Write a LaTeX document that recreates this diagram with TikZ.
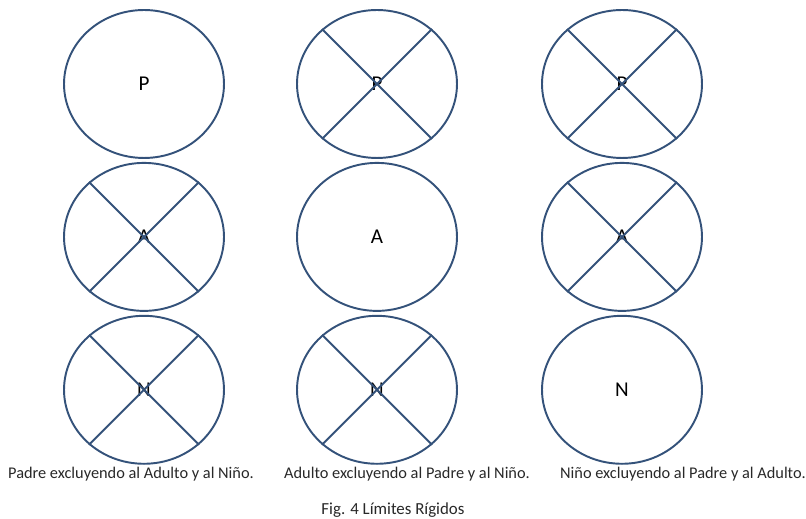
\documentclass[tikz,border=0pt]{standalone}
\usepackage{fontspec}
\setmainfont{Carlito}
\usetikzlibrary{positioning,shapes.geometric}
\definecolor{AzulBorde}{RGB}{52,82,122}
\definecolor{TextoGris}{RGB}{40,40,40}

\begin{document}
\begin{tikzpicture}[x=0.02cm, y=-0.02cm,
    conjunto/.style={draw=AzulBorde, line width=1.1pt, ellipse, minimum width=3.2cm, minimum height=2.96cm, inner sep=0pt, font=\fontsize{12}{14}\selectfont},
    cruz/.style={draw=AzulBorde, line width=1.1pt},
    leyenda/.style={font=\fontsize{9.3}{11}\selectfont, text=TextoGris, inner sep=0pt}]
  \useasboundingbox (0,0) rectangle (806,519);
  % columna 1: Padre
  \node[conjunto] (p1) at (144,84) {P};
  \node[conjunto, below=0.06cm of p1] (a1) {A};
  \node[conjunto, below=0.06cm of a1] (n1) {N};
  % columna 2: Adulto
  \node[conjunto] (p2) at (377,84) {P};
  \node[conjunto, below=0.06cm of p2] (a2) {A};
  \node[conjunto, below=0.06cm of a2] (n2) {N};
  % columna 3: Nino
  \node[conjunto] (p3) at (622,84) {P};
  \node[conjunto, below=0.06cm of p3] (a3) {A};
  \node[conjunto, below=0.06cm of a3] (n3) {N};

  \foreach \c in {a1,n1,p2,n2,p3,a3} {
    \draw[cruz] (\c.45) -- (\c.225);
    \draw[cruz] (\c.135) -- (\c.315);
  }

  \node[leyenda] (t1) at (131,474) {Padre excluyendo al Adulto y al Niño.};
  \node[leyenda] (t2) at (407,474) {Adulto excluyendo al Padre y al Niño.};
  \node[leyenda] (t3) at (683,474) {Niño excluyendo al Padre y al Adulto.};
  \node[leyenda, font=\fontsize{9.6}{11}\selectfont] (fig) at (393,510) {Fig. 4 Límites Rígidos};
\end{tikzpicture}
\end{document}
